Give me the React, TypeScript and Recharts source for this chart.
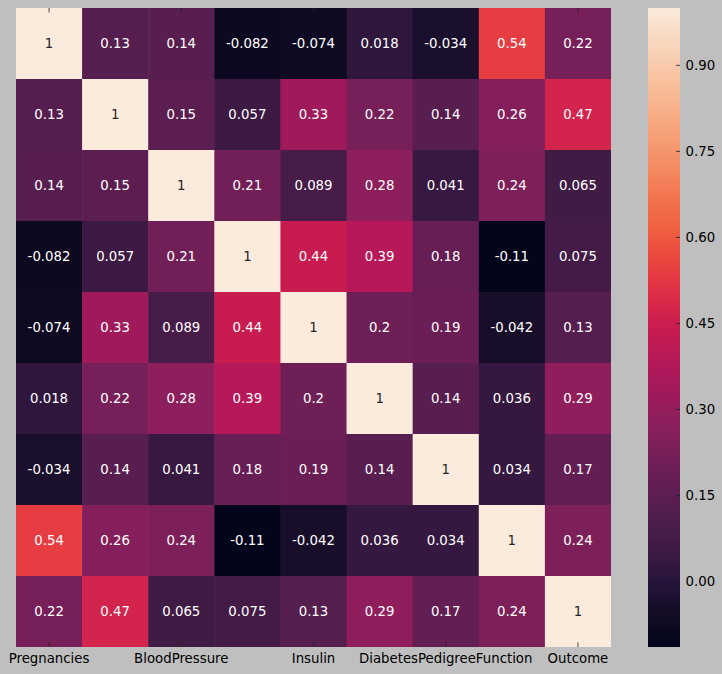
import React from 'react';
import {
  ScatterChart,
  Scatter,
  XAxis,
  YAxis,
  ComposedChart,
  ReferenceArea,
} from 'recharts';

const COLUMNS = [
  'Pregnancies',
  'Glucose',
  'BloodPressure',
  'SkinThickness',
  'Insulin',
  'BMI',
  'DiabetesPedigreeFunction',
  'Age',
  'Outcome',
];

const pregnancies = [1, 0.13, 0.14, -0.082, -0.074, 0.018, -0.034, 0.54, 0.22];
const glucose = [0.13, 1, 0.15, 0.057, 0.33, 0.22, 0.14, 0.26, 0.47];
const bloodPressure = [0.14, 0.15, 1, 0.21, 0.089, 0.28, 0.041, 0.24, 0.065];
const skinThickness = [-0.082, 0.057, 0.21, 1, 0.44, 0.39, 0.18, -0.114, 0.075];
const insulin = [-0.074, 0.33, 0.089, 0.44, 1, 0.2, 0.19, -0.042, 0.13];
const bmi = [0.018, 0.22, 0.28, 0.39, 0.2, 1, 0.14, 0.036, 0.29];
const pedigree = [-0.034, 0.14, 0.041, 0.18, 0.19, 0.14, 1, 0.034, 0.17];
const age = [0.54, 0.26, 0.24, -0.114, -0.042, 0.036, 0.034, 1, 0.24];
const outcome = [0.22, 0.47, 0.065, 0.075, 0.13, 0.29, 0.17, 0.24, 1];

const ROWS = [pregnancies, glucose, bloodPressure, skinThickness, insulin, bmi, pedigree, age, outcome];
const LABEL_TICKS = [0.5, 2.5, 4.5, 6.5, 8.5];
const CBAR_TICKS = [0, 0.15, 0.3, 0.45, 0.6, 0.75, 0.9];

const VMIN = -0.114;
const VMAX = 1;

// approximation of seaborn's "rocket" colormap
const ROCKET: [number, string][] = [
  [0.0, '#03051a'],
  [0.05, '#120c24'],
  [0.1, '#26133a'],
  [0.15, '#3c1a42'],
  [0.2, '#4f1d4c'],
  [0.25, '#611e53'],
  [0.3, '#761f58'],
  [0.35, '#8b1f5c'],
  [0.4, '#a11a5b'],
  [0.45, '#b6185a'],
  [0.5, '#c91c50'],
  [0.55, '#dc2c47'],
  [0.6, '#e8433f'],
  [0.65, '#ef5d3f'],
  [0.7, '#f3734f'],
  [0.75, '#f48a61'],
  [0.8, '#f6a077'],
  [0.85, '#f7b48e'],
  [0.9, '#f8c6a5'],
  [0.95, '#f9d8c0'],
  [1.0, '#faebdd'],
];

const hexToRgb = (h: string) => [1, 3, 5].map((i) => parseInt(h.slice(i, i + 2), 16));

const rocket = (v: number) => {
  const t = Math.max(0, Math.min(1, (v - VMIN) / (VMAX - VMIN)));
  for (let i = 1; i < ROCKET.length; i++) {
    const [p1, c1] = ROCKET[i];
    if (t <= p1) {
      const [p0, c0] = ROCKET[i - 1];
      const f = (t - p0) / (p1 - p0);
      const a = hexToRgb(c0);
      const b = hexToRgb(c1);
      return a.map((x, k) => Math.round(x + (b[k] - x) * f));
    }
  }
  return hexToRgb(ROCKET[ROCKET.length - 1][1]);
};

const FONT = '"DejaVu Sans", sans-serif';
const FS = 13.3;

// plot layout
const LEFT = 16;
const TOP = 8;
const RIGHT = 611;
const BOTTOM = 647;
const CW = (RIGHT - LEFT) / 9;
const CH = (BOTTOM - TOP) / 9;

const cells = ROWS.flatMap((row, r) => row.map((v, c) => ({ x: c + 0.5, y: r + 0.5, v })));

const fmt = (v: number) => String(Number(v.toPrecision(2)));

const Cell = (props: any) => {
  const { cx, cy, payload } = props;
  const [r, g, b] = rocket(payload.v);
  const lum = (0.2126 * r + 0.7152 * g + 0.0722 * b) / 255;
  return (
    <g>
      <rect
        x={cx - CW / 2}
        y={cy - CH / 2}
        width={CW + 0.5}
        height={CH + 0.5}
        fill={`rgb(${r},${g},${b})`}
      />
      <text
        x={cx}
        y={cy + 4.5}
        textAnchor="middle"
        fontSize={FS}
        fontFamily={FONT}
        fill={lum > 0.6 ? '#262626' : '#ffffff'}
      >
        {fmt(payload.v)}
      </text>
    </g>
  );
};

const XTick = (props: any) => {
  const { x, payload } = props;
  const label = COLUMNS[Math.floor(payload.value)];
  return (
    <g>
      <line x1={x} x2={x} y1={BOTTOM - 4.5} y2={BOTTOM} stroke="#222" strokeWidth={0.8} />
      <line x1={x} x2={x} y1={TOP} y2={TOP + 4.5} stroke="#222" strokeWidth={0.8} />
      <text x={x} y={663} textAnchor="middle" fontSize={FS} fontFamily={FONT} fill="#000">
        {label}
      </text>
    </g>
  );
};

const CBAR_LEFT = 648;
const CBAR_W = 32;

const CbarTick = (props: any) => {
  const { y, payload } = props;
  return (
    <g>
      <line x1={CBAR_W - 4} x2={CBAR_W} y1={y} y2={y} stroke="#222" strokeWidth={0.8} />
      <text x={CBAR_W + 5.5} y={y + 4.7} fontSize={FS} fontFamily={FONT} fill="#000">
        {payload.value.toFixed(2)}
      </text>
    </g>
  );
};

export default function App() {
  return (
    <div
      style={{
        position: 'absolute',
        left: 0,
        top: 0,
        width: 722,
        height: 674,
        background: '#bfbfbf',
        overflow: 'hidden',
      }}
    >
      <div style={{ position: 'absolute', left: 0, top: 0 }}>
        <ScatterChart
          width={722}
          height={674}
          margin={{ top: TOP, left: LEFT, right: 722 - RIGHT, bottom: 0 }}
        >
          <XAxis
            type="number"
            dataKey="x"
            domain={[0, 9]}
            ticks={LABEL_TICKS}
            interval={0}
            height={674 - BOTTOM}
            axisLine={false}
            tickLine={false}
            tick={<XTick />}
            allowDataOverflow
          />
          <YAxis type="number" dataKey="y" domain={[0, 9]} reversed hide allowDataOverflow />
          <Scatter data={cells} shape={<Cell />} isAnimationActive={false} />
        </ScatterChart>
      </div>
      <div style={{ position: 'absolute', left: CBAR_LEFT, top: 0 }}>
        <ComposedChart
          width={722 - CBAR_LEFT}
          height={674}
          data={[{ k: 0 }]}
          margin={{ top: TOP, left: 0, right: 0, bottom: 674 - BOTTOM }}
        >
          <defs>
            <linearGradient id="rocketGrad" x1="0" y1="1" x2="0" y2="0">
              {ROCKET.map(([p, c]) => (
                <stop key={p} offset={`${p * 100}%`} stopColor={c} />
              ))}
            </linearGradient>
          </defs>
          <XAxis dataKey="k" hide />
          <YAxis
            orientation="right"
            type="number"
            domain={[VMIN, VMAX]}
            ticks={CBAR_TICKS}
            width={722 - CBAR_LEFT - CBAR_W}
            axisLine={false}
            tickLine={false}
            tick={<CbarTick />}
            allowDataOverflow
          />
          <ReferenceArea y1={VMIN} y2={VMAX} fill="url(#rocketGrad)" fillOpacity={1} stroke="none" />
        </ComposedChart>
      </div>
    </div>
  );
}
